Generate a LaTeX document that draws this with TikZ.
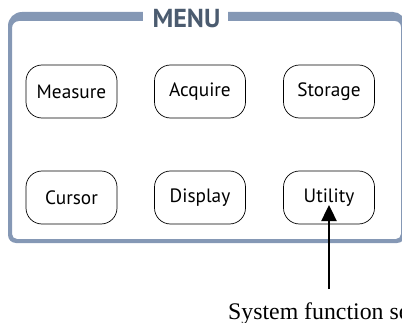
\documentclass[tikz,border=0pt]{standalone}
\usepackage{fontspec}
\newfontfamily\btnfont{PT Sans}
\newfontfamily\capfont{Liberation Serif}
\usetikzlibrary{arrows.meta,calc}
\definecolor{framec}{RGB}{133,152,181}
\definecolor{menuc}{RGB}{75,91,111}
\tikzset{
  btn/.style={draw=black, line width=0.7pt, rounded corners=16pt, minimum width=91pt, minimum height=53pt, inner sep=0pt, font=\btnfont\fontsize{19.3}{22}\selectfont},
  pointer/.style={line width=2.4pt, -{Triangle[length=16pt,width=15pt]}}
}
\begin{document}
\begin{tikzpicture}[x=1pt,y=1pt]
\useasboundingbox (0,0) rectangle (402,322);
% frame ring
\fill[framec, even odd rule]
  (8,87) -- (8,296) arc[start angle=180,end angle=90,radius=14] -- (393,310)
  arc[start angle=90,end angle=0,radius=12] -- (405,87)
  arc[start angle=0,end angle=-90,radius=8] -- (16,79)
  arc[start angle=270,end angle=180,radius=8] -- cycle
  (12,88) -- (12,294) arc[start angle=180,end angle=90,radius=7] -- (395,301)
  arc[start angle=90,end angle=0,radius=6] -- (401,88)
  arc[start angle=0,end angle=-90,radius=5] -- (17,83)
  arc[start angle=270,end angle=180,radius=5] -- cycle;
\fill[white] (143,298) rectangle (228,314);
\node[font=\btnfont\bfseries\fontsize{26}{29}\selectfont, text=menuc, anchor=base] (menu) at (186.5,294) {MENU};
% buttons
\node[btn] (meas) at (71.5,230.5) {Measure};
\node[btn] (acq) at (200,230.5) {Acquire};
\node[btn] (stor) at (329,230.5) {Storage};
\node[btn] (curs) at (71.5,124.5) {Cursor};
\node[btn] (disp) at (200,124.5) {Display};
\node[btn] (util) at (329,124.5) {Utility};
% caption and pointer
\node[font=\capfont\fontsize{23.8}{27}\selectfont, anchor=base west, inner sep=0pt] (cap) at (228,3) {System function se};
\coordinate (start) at (329,33);
\draw[pointer] (start) -- ([yshift=-7.5pt]util.center);
\end{tikzpicture}
\end{document}
